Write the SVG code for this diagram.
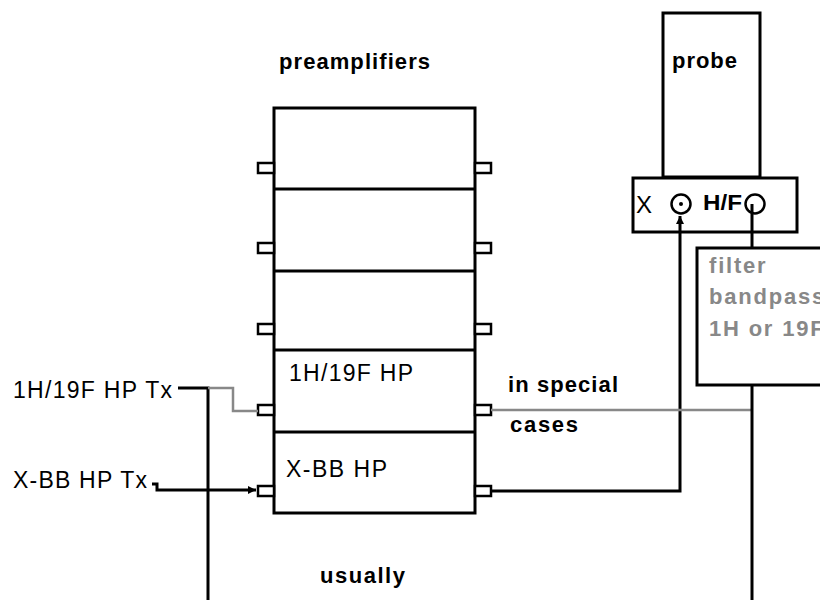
<svg xmlns="http://www.w3.org/2000/svg" width="820" height="600" viewBox="0 0 820 600">
<style>
  .box{fill:#fff;stroke:#000;stroke-width:3}
  .stub{fill:#fff;stroke:#000;stroke-width:2.5}
  .blk{fill:none;stroke:#000;stroke-width:3}
  .gry{fill:none;stroke:#888;stroke-width:2.5}
  text{font-family:"Liberation Sans",Arial,sans-serif;fill:#000}
  .b{font-weight:bold;font-size:22px}
  .r{font-size:23px}
  .g{font-weight:bold;font-size:22px;fill:#888;letter-spacing:1.8px}
</style>
<defs>
  <marker id="ah" viewBox="0 0 8 8" refX="8" refY="4" markerWidth="8" markerHeight="8" markerUnits="userSpaceOnUse" orient="auto">
    <path d="M0,0 L8,4 L0,8 Z" fill="#000"/>
  </marker>
</defs>
<rect width="820" height="600" fill="#fff"/>

<g id="preamplifiers">
  <text class="b" x="279" y="69" textLength="151" lengthAdjust="spacing">preamplifiers</text>
  <rect class="box" x="274" y="108" width="201" height="405"/>
  <line class="blk" x1="274" y1="189" x2="475" y2="189"/>
  <line class="blk" x1="274" y1="271" x2="475" y2="271"/>
  <line class="blk" x1="274" y1="350" x2="475" y2="350"/>
  <line class="blk" x1="274" y1="432" x2="475" y2="432"/>
  <rect class="stub" x="258" y="163" width="16" height="10"/>
  <rect class="stub" x="475" y="163" width="16" height="10"/>
  <rect class="stub" x="258" y="243" width="16" height="10"/>
  <rect class="stub" x="475" y="243" width="16" height="10"/>
  <rect class="stub" x="258" y="324" width="16" height="10"/>
  <rect class="stub" x="475" y="324" width="16" height="10"/>
  <rect class="stub" x="258" y="405" width="16" height="10"/>
  <rect class="stub" x="475" y="405" width="16" height="10"/>
  <rect class="stub" x="258" y="486" width="16" height="10"/>
  <rect class="stub" x="475" y="486" width="16" height="10"/>
  <text class="r" x="289" y="381" textLength="124" lengthAdjust="spacing">1H/19F HP</text>
  <text class="r" x="286" y="477" textLength="101" lengthAdjust="spacing">X-BB HP</text>
</g>

<g id="tx-labels">
  <text class="r" x="13" y="398" textLength="159" lengthAdjust="spacing">1H/19F HP Tx</text>
  <text class="r" x="13" y="488" textLength="134" lengthAdjust="spacing">X-BB HP Tx</text>
</g>

<g id="probe">
  <rect class="box" x="663" y="13" width="97" height="164"/>
  <text class="b" x="672" y="68" textLength="65" lengthAdjust="spacing">probe</text>
</g>

<g id="connector-box">
  <rect class="box" x="633" y="178" width="164" height="54"/>
  <text class="r" x="636" y="213" textLength="16" lengthAdjust="spacingAndGlyphs">X</text>
  <circle cx="681" cy="204" r="9.5" fill="#fff" stroke="#000" stroke-width="2.5"/>
  <circle cx="681" cy="204" r="2" fill="#000"/>
  <text class="b" x="703" y="210" textLength="39" lengthAdjust="spacingAndGlyphs">H/F</text>
  <circle cx="755" cy="204" r="9.5" fill="#fff" stroke="#000" stroke-width="2.5"/>
</g>

<g id="filter">
  <rect class="box" x="697" y="248" width="140" height="137"/>
  <text class="g" x="709" y="273">filter</text>
  <text class="g" x="709" y="304">bandpass</text>
  <text class="g" x="709" y="336">1H or 19F</text>
</g>

<g id="notes">
  <text class="b" x="508" y="392" textLength="110" lengthAdjust="spacing">in special</text>
  <text class="b" x="510" y="432" textLength="68" lengthAdjust="spacing">cases</text>
  <text class="b" x="320" y="583" textLength="85" lengthAdjust="spacing">usually</text>
</g>

<g id="connectors">
  <polyline class="blk" points="178,388 208,388 208,600"/>
  <polyline class="gry" points="208,388 233,388 233,411 258,411"/>
  <polyline class="blk" points="152,484 157,484 157,490 256,490" marker-end="url(#ah)"/>
  <polyline class="blk" points="491,491 680,491 680,216" marker-end="url(#ah)"/>
  <line class="gry" x1="491" y1="410" x2="752" y2="410"/>
  <line class="blk" x1="752" y1="204" x2="752" y2="248"/>
  <line class="blk" x1="752" y1="385" x2="752" y2="600"/>
</g>
</svg>
